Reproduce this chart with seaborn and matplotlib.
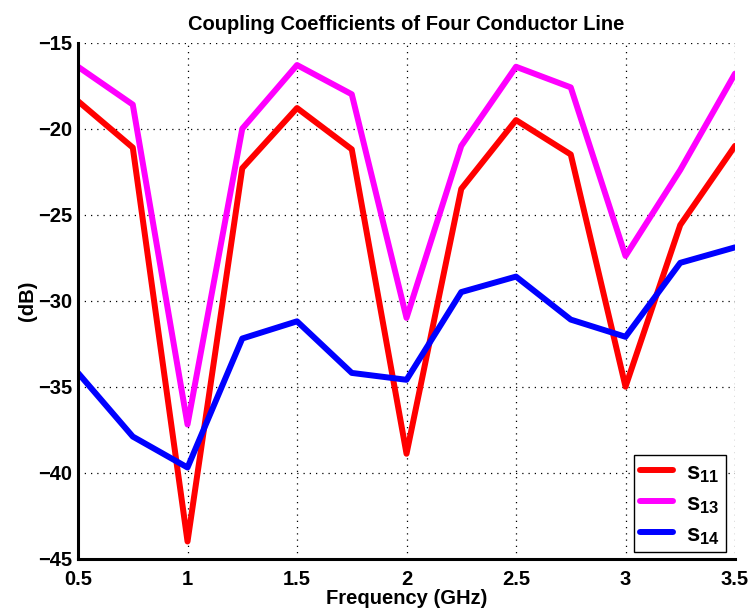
import matplotlib
matplotlib.use("Agg")
import matplotlib.pyplot as plt
import numpy as np
import pandas as pd
import seaborn as sns

# Frequency sweep (GHz) and coupling coefficients (dB)
freq = [0.5, 0.75, 1.0, 1.25, 1.5, 1.75, 2.0, 2.25, 2.5, 2.75, 3.0, 3.25, 3.5]
s11 = [-18.4, -21.1, -44.0, -22.3, -18.8, -21.2, -38.9, -23.5, -19.5, -21.5, -35.0, -25.6, -21.0]
s13 = [-16.4, -18.6, -37.2, -20.0, -16.3, -18.0, -31.0, -21.0, -16.4, -17.6, -27.4, -22.4, -16.8]
s14 = [-34.2, -37.9, -39.7, -32.2, -31.2, -34.2, -34.6, -29.5, -28.6, -31.1, -32.1, -27.8, -26.9]

series_labels = [r"$s_{11}$", r"$s_{13}$", r"$s_{14}$"]
series_colors = ["#ff0000", "#ff00ff", "#0000ff"]

df = pd.concat(
    [pd.DataFrame({"freq": freq, "dB": vals, "series": lab})
     for vals, lab in zip([s11, s13, s14], series_labels)],
    ignore_index=True,
)

sns.set_style("white")
plt.rcParams["font.family"] = ["Liberation Sans", "DejaVu Sans"]
plt.rcParams["font.weight"] = "bold"
plt.rcParams["text.color"] = "black"
plt.rcParams["axes.labelcolor"] = "black"
plt.rcParams["mathtext.fontset"] = "custom"
plt.rcParams["mathtext.rm"] = "Liberation Sans:bold"
plt.rcParams["mathtext.it"] = "Liberation Sans:bold"
plt.rcParams["mathtext.bf"] = "Liberation Sans:bold"

fig = plt.figure(figsize=(7.51, 6.14), dpi=100)
ax = fig.add_axes([0.1039, 0.0901, 0.8748, 0.8404])

sns.lineplot(
    data=df, x="freq", y="dB", hue="series",
    palette=dict(zip(series_labels, series_colors)),
    linewidth=4.3, ax=ax, sort=False,
)

ax.set_xlim(0.5, 3.5)
ax.set_ylim(-45, -15)
ax.set_xticks(np.arange(0.5, 3.51, 0.5))
ax.set_xticklabels(["0.5", "1", "1.5", "2", "2.5", "3", "3.5"])
ax.set_yticks(np.arange(-45, -14, 5))

ax.grid(True, linestyle=(0, (1, 4)), color="black", linewidth=0.9)
ax.set_axisbelow(True)

for side in ["top", "right"]:
    ax.spines[side].set_visible(False)
for side in ["left", "bottom"]:
    ax.spines[side].set_linewidth(2.2)
    ax.spines[side].set_color("black")

ax.tick_params(axis="both", direction="in", length=6, width=2.2,
               labelsize=14.5, colors="black")
ax.tick_params(axis="x", pad=8)
ax.tick_params(axis="y", pad=4)
for lab in ax.get_xticklabels() + ax.get_yticklabels():
    lab.set_fontweight("bold")

ax.set_xlabel("Frequency (GHz)", fontsize=14.5, fontweight="bold", labelpad=0)
ax.set_ylabel("(dB)", fontsize=14.5, fontweight="bold", labelpad=1)
ax.set_title("Coupling Coefficients of Four Conductor Line",
             fontsize=14.5, fontweight="bold", pad=9, color="black")

leg = ax.legend(loc="lower right", bbox_to_anchor=(0.986, 0.012),
                fancybox=False, framealpha=1, edgecolor="black",
                fontsize=17, handlelength=1.4, borderpad=0.25,
                labelspacing=0.3, handletextpad=0.55, borderaxespad=0)
leg.get_frame().set_linewidth(1.0)
for line in leg.get_lines():
    line.set_linewidth(4.3)

fig.savefig("out.png", dpi=100)
